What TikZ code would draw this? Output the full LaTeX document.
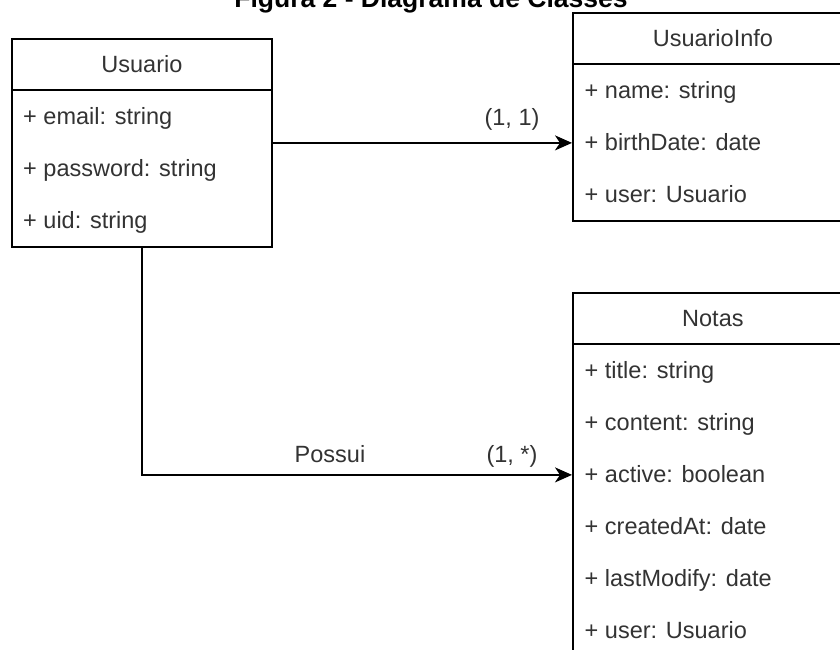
\documentclass[tikz,border=0pt]{standalone}
\usepackage{fontspec}
\setmainfont{Liberation Sans}
\usetikzlibrary{arrows.meta}
\definecolor{txtgray}{HTML}{333333}

\begin{document}
\begin{tikzpicture}[x=1pt, y=-1pt,
    classbox/.style={draw, line width=1.8pt, inner sep=0pt, anchor=north west, minimum height=#1},
    classname/.style={anchor=base, text=txtgray, font=\fontsize{23.5}{28}\selectfont},
    attr/.style={anchor=base west, text=txtgray, inner sep=0pt, font=\fontsize{23.5}{28}\selectfont},
    mult/.style={anchor=base, text=txtgray, font=\fontsize{23.5}{28}\selectfont},
    assoc/.style={line width=1.8pt, -{Stealth[length=17pt, width=15pt, inset=5pt]}}]
    \clip (0,0) rectangle (840,650);
    \fill[white] (0,0) rectangle (840,650);

    \node[font=\bfseries\fontsize{26.5}{30}\selectfont, anchor=base] (title) at (431,7.5) {Figura 2 - Diagrama de Classes};

    % classes
    \node[classbox=208pt, minimum width=260pt] (usuario) at (11,38) {};
    \node[classbox=208pt, minimum width=280pt] (info) at (572,12) {};
    \node[classbox=364pt, minimum width=280pt] (notas) at (572,292) {};

    \foreach \c/\n in {usuario/Usuario, info/UsuarioInfo, notas/Notas} {
        \draw[line width=1.8pt] ([yshift=-52pt]\c.north west) -- ([yshift=-52pt]\c.north east);
        \node[classname] (\c-name) at ([yshift=-34.5pt]\c.north) {\n};
    }

    \foreach \t [count=\i] in {{+ email: string}, {+ password: string}, {+ uid: string}}
        \node[attr] (usuario-\i) at ([xshift=12pt, yshift={-34.5pt-52pt*\i}]usuario.north west) {\t};
    \foreach \t [count=\i] in {{+ name: string}, {+ birthDate: date}, {+ user: Usuario}}
        \node[attr] (info-\i) at ([xshift=12.5pt, yshift={-34.5pt-52pt*\i}]info.north west) {\t};
    \foreach \t [count=\i] in {{+ title: string}, {+ content: string}, {+ active: boolean},
                               {+ createdAt: date}, {+ lastModify: date}, {+ user: Usuario}}
        \node[attr] (notas-\i) at ([xshift=12.5pt, yshift={-34.5pt-52pt*\i}]notas.north west) {\t};

    % associations
    \draw[assoc] (usuario.east) -- (usuario.east -| info.west);
    \draw[assoc] (usuario.south) |- (notas.west);

    \node[mult] (m1) at (512,126) {(1, 1)};
    \node[mult] (m2) at (512,462) {(1, *)};
    \node[mult] (possui) at (330,462) {Possui};
\end{tikzpicture}
\end{document}
